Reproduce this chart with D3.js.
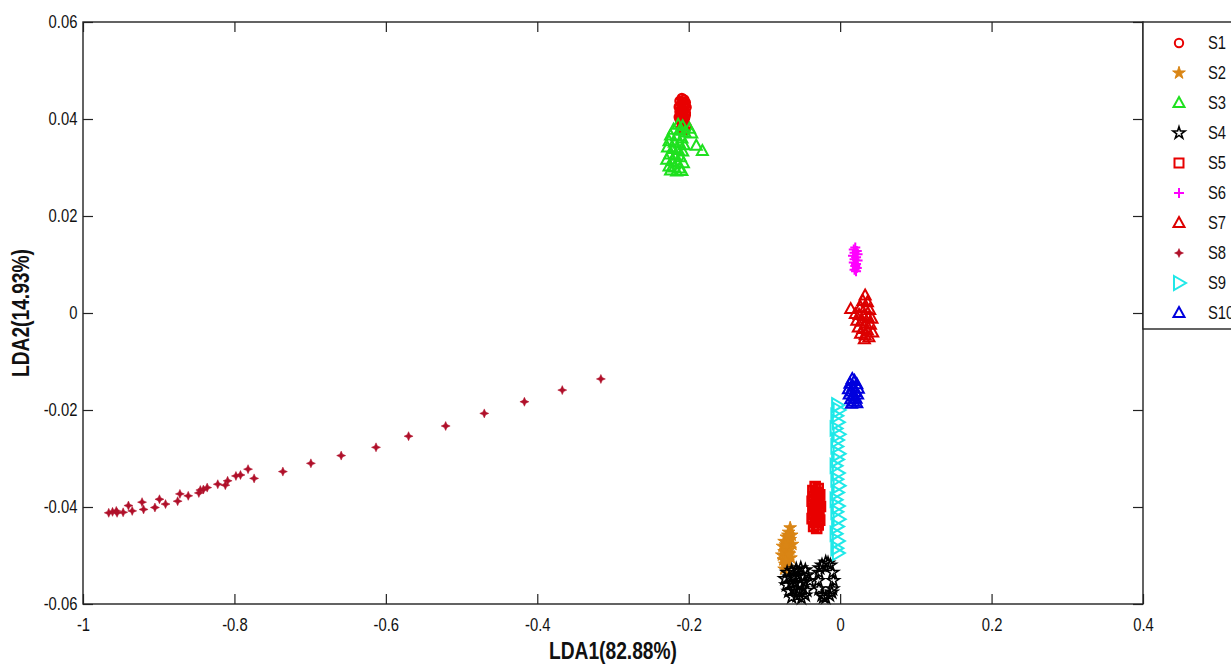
<!DOCTYPE html>
<html>
<head>
<meta charset="utf-8">
<script src="https://cdn.jsdelivr.net/npm/d3@7"></script>
<style>
  html, body { margin: 0; padding: 0; background: #fff; }
  svg { display: block; }
  .tick text, .legend text {
    font-family: "Liberation Sans", Arial, sans-serif;
    font-size: 18.5px;
    fill: #111;
  }
  .axis-label {
    font-family: "Liberation Sans", Arial, sans-serif;
    font-weight: bold;
    font-size: 24px;
    fill: #111;
  }
</style>
</head>
<body>
<svg></svg>
<script>
const width = 1231;
const height = 664;

// ticks
const xTicks = [-1, -0.8, -0.6, -0.4, -0.2, 0, 0.2, 0.4];
const yTicks = [-0.06, -0.04, -0.02, 0, 0.02, 0.04, 0.06];

const seriesNames = ["S1", "S2", "S3", "S4", "S5", "S6", "S7", "S8", "S9", "S10"];

// points: [LDA1, LDA2]
const s1 = [
  [-0.209, 0.0443], [-0.206, 0.0440], [-0.212, 0.0437], [-0.204, 0.0434], [-0.210, 0.0431],
  [-0.207, 0.0428], [-0.213, 0.0425], [-0.203, 0.0424], [-0.209, 0.0421], [-0.206, 0.0418],
  [-0.212, 0.0415], [-0.204, 0.0413], [-0.210, 0.0410], [-0.207, 0.0407], [-0.213, 0.0404],
  [-0.205, 0.0402], [-0.209, 0.0399], [-0.211, 0.0396], [-0.206, 0.0394], [-0.208, 0.0389],
  [-0.203, 0.0385], [-0.210, 0.0381], [-0.205, 0.0377], [-0.208, 0.0436], [-0.211, 0.0419],
  [-0.205, 0.0427], [-0.208, 0.0412], [-0.212, 0.0400], [-0.204, 0.0408], [-0.207, 0.0396]
];

const s2 = [
  [-0.066, -0.0443], [-0.068, -0.0452], [-0.064, -0.0458], [-0.071, -0.0462], [-0.066, -0.0467],
  [-0.074, -0.0471], [-0.069, -0.0474], [-0.063, -0.0477], [-0.076, -0.0481], [-0.071, -0.0484],
  [-0.066, -0.0487], [-0.074, -0.0492], [-0.068, -0.0495], [-0.077, -0.0499], [-0.071, -0.0503],
  [-0.065, -0.0505], [-0.075, -0.0509], [-0.069, -0.0513], [-0.073, -0.0518], [-0.070, -0.0524],
  [-0.074, -0.0528], [-0.069, -0.0458], [-0.072, -0.0478], [-0.067, -0.0497], [-0.072, -0.0511]
];

const s3 = [
  [-0.214, 0.0388], [-0.208, 0.0385], [-0.220, 0.0378], [-0.212, 0.0376], [-0.205, 0.0372],
  [-0.224, 0.0366], [-0.216, 0.0364], [-0.209, 0.0360], [-0.226, 0.0354], [-0.219, 0.0351],
  [-0.212, 0.0349], [-0.206, 0.0346], [-0.228, 0.0341], [-0.221, 0.0338], [-0.214, 0.0336],
  [-0.208, 0.0333], [-0.225, 0.0327], [-0.218, 0.0324], [-0.211, 0.0321], [-0.229, 0.0316],
  [-0.222, 0.0313], [-0.215, 0.0310], [-0.207, 0.0309], [-0.226, 0.0302], [-0.219, 0.0300],
  [-0.212, 0.0298], [-0.224, 0.0294], [-0.216, 0.0292], [-0.209, 0.0293], [-0.199, 0.0380],
  [-0.196, 0.0370], [-0.190, 0.0345], [-0.182, 0.0334]
];

const s4 = [
  [-0.070, -0.0535], [-0.064, -0.0531], [-0.058, -0.0528], [-0.052, -0.0526], [-0.046, -0.0530],
  [-0.073, -0.0548], [-0.067, -0.0545], [-0.061, -0.0543], [-0.055, -0.0541], [-0.049, -0.0545],
  [-0.043, -0.0540], [-0.071, -0.0561], [-0.065, -0.0558], [-0.059, -0.0556], [-0.053, -0.0560],
  [-0.047, -0.0555], [-0.040, -0.0553], [-0.068, -0.0574], [-0.062, -0.0571], [-0.056, -0.0575],
  [-0.050, -0.0569], [-0.044, -0.0572], [-0.064, -0.0586], [-0.057, -0.0583], [-0.051, -0.0588],
  [-0.046, -0.0582],
  [-0.019, -0.0514], [-0.013, -0.0520], [-0.010, -0.0535], [-0.009, -0.0552], [-0.010, -0.0569],
  [-0.014, -0.0582], [-0.019, -0.0587], [-0.024, -0.0582], [-0.028, -0.0569], [-0.029, -0.0552],
  [-0.028, -0.0535], [-0.024, -0.0520], [-0.016, -0.0516], [-0.022, -0.0586], [-0.011, -0.0576],
  [-0.027, -0.0526]
];

const s5 = [
  [-0.033, -0.0358], [-0.029, -0.0362], [-0.036, -0.0366], [-0.031, -0.0370], [-0.027, -0.0375],
  [-0.035, -0.0379], [-0.030, -0.0384], [-0.037, -0.0388], [-0.028, -0.0390], [-0.033, -0.0395],
  [-0.026, -0.0399], [-0.036, -0.0402], [-0.031, -0.0406], [-0.028, -0.0411], [-0.035, -0.0415],
  [-0.030, -0.0420], [-0.037, -0.0424], [-0.027, -0.0427], [-0.033, -0.0432], [-0.029, -0.0437],
  [-0.035, -0.0440], [-0.031, -0.0444], [-0.032, -0.0376], [-0.034, -0.0408], [-0.032, -0.0424],
  [-0.030, -0.0393]
];

const s6 = [
  [0.020, 0.0135], [0.018, 0.0131], [0.022, 0.0128], [0.019, 0.0124], [0.023, 0.0121],
  [0.017, 0.0118], [0.021, 0.0115], [0.019, 0.0111], [0.023, 0.0108], [0.018, 0.0104],
  [0.021, 0.0101], [0.020, 0.0097], [0.022, 0.0093], [0.019, 0.0089], [0.021, 0.0086]
];

const s7 = [
  [0.033, 0.0036], [0.030, 0.0025], [0.036, 0.0022], [0.014, 0.0008], [0.027, 0.0012],
  [0.033, 0.0010], [0.039, 0.0006], [0.020, -0.0002], [0.025, -0.0004], [0.031, -0.0006],
  [0.037, -0.0010], [0.042, -0.0012], [0.022, -0.0016], [0.028, -0.0018], [0.034, -0.0022],
  [0.040, -0.0024], [0.024, -0.0030], [0.030, -0.0033], [0.036, -0.0036], [0.043, -0.0040],
  [0.027, -0.0043], [0.033, -0.0046], [0.038, -0.0050], [0.032, -0.0054]
];

const s8x = [
  -0.966, -0.961, -0.956, -0.955, -0.947, -0.940, -0.935, -0.922, -0.920, -0.905,
  -0.899, -0.891, -0.875, -0.872, -0.861, -0.847, -0.845, -0.841, -0.836, -0.822,
  -0.812, -0.809, -0.798, -0.792, -0.782, -0.774, -0.736, -0.699, -0.659, -0.613,
  -0.570, -0.521, -0.470, -0.417, -0.367, -0.316
];
const s8y = [
  -0.0412, -0.0410, -0.0408, -0.0412, -0.0411, -0.0397, -0.0408, -0.0390, -0.0405, -0.0401,
  -0.0384, -0.0394, -0.0388, -0.0373, -0.0377, -0.0371, -0.0365, -0.0364, -0.0360, -0.0353,
  -0.0355, -0.0346, -0.0336, -0.0334, -0.0322, -0.0341, -0.0327, -0.0310, -0.0294, -0.0277,
  -0.0254, -0.0233, -0.0207, -0.0183, -0.0159, -0.0136
];
const s8 = s8x.map((v, i) => [v, s8y[i]]);

const s9 = [
  [-0.004, -0.0190], [-0.002, -0.0200], [-0.005, -0.0212], [-0.003, -0.0225], [-0.006, -0.0238],
  [-0.002, -0.0250], [-0.004, -0.0262], [-0.005, -0.0275], [-0.002, -0.0290], [-0.004, -0.0302],
  [-0.006, -0.0315], [-0.003, -0.0330], [-0.005, -0.0343], [-0.002, -0.0356], [-0.004, -0.0370],
  [-0.006, -0.0385], [-0.003, -0.0398], [-0.005, -0.0410], [-0.002, -0.0425], [-0.004, -0.0440],
  [-0.006, -0.0455], [-0.003, -0.0470], [-0.005, -0.0485], [-0.003, -0.0495]
];

const s10 = [
  [0.016, -0.0136], [0.019, -0.0140], [0.013, -0.0146], [0.022, -0.0147], [0.017, -0.0152],
  [0.011, -0.0157], [0.024, -0.0156], [0.015, -0.0162], [0.020, -0.0163], [0.012, -0.0168],
  [0.023, -0.0168], [0.017, -0.0172], [0.014, -0.0178], [0.021, -0.0177], [0.018, -0.0183],
  [0.015, -0.0187], [0.022, -0.0186]
];

const allSeries = [s1, s2, s3, s4, s5, s6, s7, s8, s9, s10];

// marker styles, one per series
const triUp = "M0,-6L5.5,4L-5.5,4Z";
const styles = [
  { d: d3.symbol(d3.symbolCircle, 55)(), stroke: "#e80000", fill: "none", sw: 2.4 },
  { d: d3.symbol(d3.symbolStar, 50)(), stroke: "#d98515", fill: "#d98515", sw: 1 },
  { d: triUp, stroke: "#1fe01f", fill: "none", sw: 2 },
  { d: d3.symbol(d3.symbolStar, 45)(), stroke: "#000", fill: "none", sw: 1.6 },
  { d: "M-4.5,-4.5H4.5V4.5H-4.5Z", stroke: "#e80000", fill: "none", sw: 2.6 },
  { d: "M-5,0H5M0,-5V5", stroke: "#ff00ff", fill: "none", sw: 2 },
  { d: triUp, stroke: "#dc0000", fill: "none", sw: 2 },
  { d: "M0,-4.5L1.4,-1.4L4.5,0L1.4,1.4L0,4.5L-1.4,1.4L-4.5,0L-1.4,-1.4Z", stroke: "#b0102a", fill: "#b0102a", sw: 0.5 },
  { d: "M-5,-7L7,0L-5,7Z", stroke: "#20e8e8", fill: "none", sw: 2 },
  { d: triUp, stroke: "#0000dd", fill: "none", sw: 2 }
];

const narrow = "scale(0.8,1)";

const svg = d3.select("svg")
  .attr("width", width)
  .attr("height", height);

const plotLeft = 83, plotRight = 1143, plotTop = 22, plotBottom = 604;

const x = d3.scaleLinear().domain([-1, 0.4]).range([plotLeft, plotRight]);
const y = d3.scaleLinear().domain([-0.06, 0.06]).range([plotBottom, plotTop]);

const fmtX = d => String(Math.round(d * 10) / 10);
const fmtY = d => String(Math.round(d * 100) / 100);

// points
allSeries.forEach((pts, i) => {
  const st = styles[i];
  svg.append("g")
    .selectAll("path")
    .data(pts)
    .join("path")
    .attr("transform", d => `translate(${x(d[0])},${y(d[1])})`)
    .attr("d", st.d)
    .attr("fill", st.fill)
    .attr("stroke", st.stroke)
    .attr("stroke-width", st.sw)
    .attr("stroke-linejoin", "miter");
});

// axes, ticks pointing inward
function styleAxis(g) {
  g.select(".domain").remove();
  g.selectAll(".tick line").attr("stroke", "#222").attr("stroke-width", 1.2);
  g.selectAll(".tick text").attr("transform", narrow);
}

svg.append("g")
  .attr("transform", `translate(0,${plotBottom})`)
  .call(d3.axisBottom(x).tickValues(xTicks).tickFormat(fmtX).tickSizeInner(-10).tickSizeOuter(0).tickPadding(14))
  .call(styleAxis);

svg.append("g")
  .attr("transform", `translate(0,${plotTop})`)
  .call(d3.axisTop(x).tickValues(xTicks).tickFormat("").tickSizeInner(-10).tickSizeOuter(0))
  .call(styleAxis);

svg.append("g")
  .attr("transform", `translate(${plotLeft},0)`)
  .call(d3.axisLeft(y).tickValues(yTicks).tickFormat(fmtY).tickSizeInner(-10).tickSizeOuter(0).tickPadding(7))
  .call(styleAxis);

svg.append("g")
  .attr("transform", `translate(${plotRight},0)`)
  .call(d3.axisRight(y).tickValues(yTicks).tickFormat("").tickSizeInner(-10).tickSizeOuter(0))
  .call(styleAxis);

svg.append("rect")
  .attr("x", plotLeft)
  .attr("y", plotTop)
  .attr("width", plotRight - plotLeft)
  .attr("height", plotBottom - plotTop)
  .attr("fill", "none")
  .attr("stroke", "#222")
  .attr("stroke-width", 1.4);

// axis labels
svg.append("text")
  .attr("class", "axis-label")
  .attr("transform", `translate(${(plotLeft + plotRight) / 2},659) ${narrow}`)
  .attr("text-anchor", "middle")
  .text("LDA1(82.88%)");

svg.append("text")
  .attr("class", "axis-label")
  .attr("transform", `translate(29,${(plotTop + plotBottom) / 2}) rotate(-90) ${narrow}`)
  .attr("text-anchor", "middle")
  .text("LDA2(14.93%)");

// legend
const legend = svg.append("g").attr("class", "legend");

legend.append("rect")
  .attr("x", plotRight)
  .attr("y", plotTop)
  .attr("width", 120)
  .attr("height", 307)
  .attr("fill", "#fff")
  .attr("stroke", "#222")
  .attr("stroke-width", 1.4);

const item = legend.selectAll(".legend-item")
  .data(seriesNames)
  .join("g")
  .attr("class", "legend-item")
  .attr("transform", (d, i) => `translate(0,${43 + i * 30})`);

item.append("path")
  .attr("transform", "translate(1179,0)")
  .attr("d", (d, i) => styles[i].d)
  .attr("fill", (d, i) => styles[i].fill)
  .attr("stroke", (d, i) => styles[i].stroke)
  .attr("stroke-width", (d, i) => Math.min(styles[i].sw, 2));

item.append("text")
  .attr("transform", `translate(1208,0) ${narrow}`)
  .attr("dy", "0.35em")
  .text(d => d);
</script>
</body>
</html>
